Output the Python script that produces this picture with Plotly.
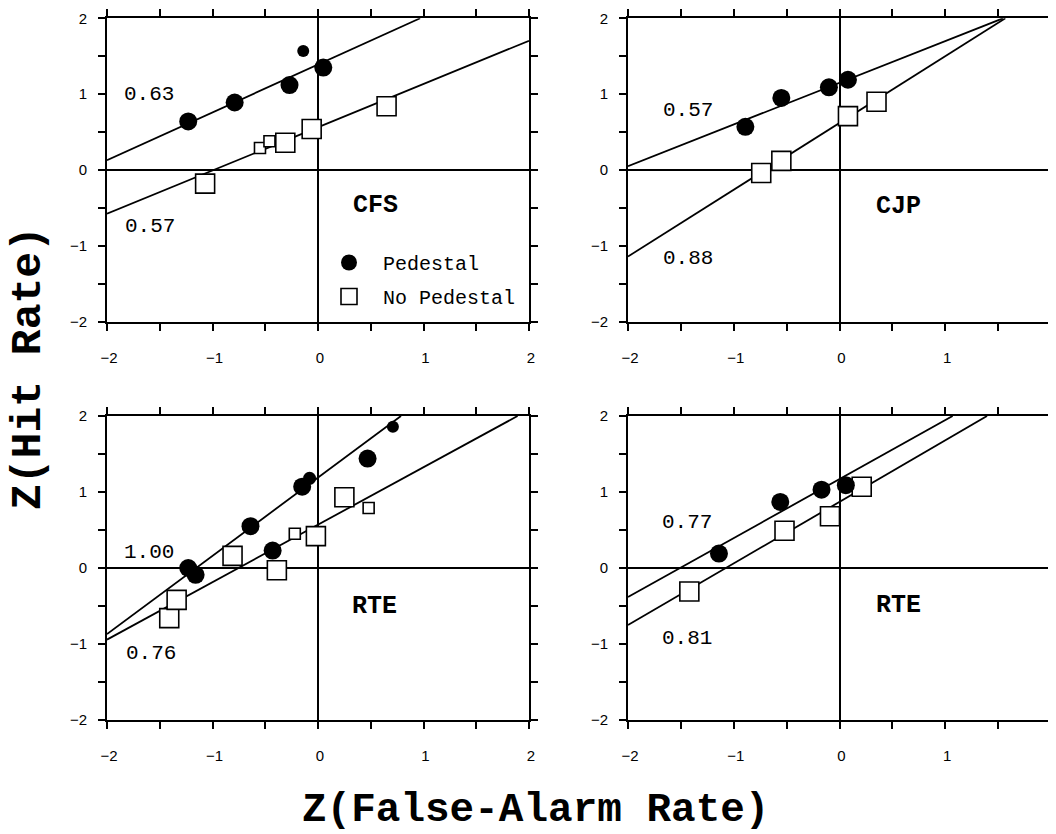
import plotly.graph_objects as go

# ---------------- data ----------------
tick_vals = [-2, -1.5, -1, -0.5, 0, 0.5, 1, 1.5, 2]
tick_text = ["\u22122", "", "\u22121", "", "0", "", "1", "", "2"]

panel_names = ["CFS", "CJP", "RTE", "RTE"]

# CFS (top-left)
cfs_ped_x = [-1.23, -0.79, -0.27, 0.05, -0.14]
cfs_ped_y = [0.64, 0.89, 1.12, 1.35, 1.57]
cfs_nop_x = [-1.07, -0.55, -0.46, -0.31, -0.06, 0.65]
cfs_nop_y = [-0.18, 0.29, 0.38, 0.36, 0.54, 0.84]
cfs_fit_slope = [0.63, 0.57]
cfs_fit_icpt = [1.39, 0.564]
cfs_slope_text = ["0.63", "0.57"]

# CJP (top-right)
cjp_ped_x = [-0.89, -0.55, -0.10, 0.08]
cjp_ped_y = [0.57, 0.95, 1.09, 1.19]
cjp_nop_x = [-0.74, -0.55, 0.08, 0.35]
cjp_nop_y = [-0.04, 0.12, 0.71, 0.90]
cjp_fit_slope = [0.55, 0.88]
cjp_fit_icpt = [1.15, 0.62]
cjp_slope_text = ["0.57", "0.88"]

# RTE (bottom-left)
rte1_ped_x = [-1.23, -1.16, -0.64, -0.43, -0.15, -0.08, 0.47, 0.71]
rte1_ped_y = [0.00, -0.09, 0.55, 0.23, 1.07, 1.18, 1.44, 1.86]
rte1_nop_x = [-1.41, -1.34, -0.81, -0.39, -0.22, -0.02, 0.25, 0.48]
rte1_nop_y = [-0.66, -0.42, 0.16, -0.03, 0.45, 0.42, 0.93, 0.79]
rte1_fit_slope = [1.03, 0.756]
rte1_fit_icpt = [1.19, 0.57]
rte1_slope_text = ["1.00", "0.76"]

# RTE (bottom-right)
rte2_ped_x = [-1.14, -0.56, -0.17, 0.06]
rte2_ped_y = [0.19, 0.87, 1.03, 1.09]
rte2_nop_x = [-1.42, -0.52, -0.09, 0.21]
rte2_nop_y = [-0.31, 0.49, 0.68, 1.07]
rte2_fit_slope = [0.776, 0.81]
rte2_fit_icpt = [1.17, 0.87]
rte2_slope_text = ["0.77", "0.81"]

legend_names = ["Pedestal", "No Pedestal"]

# ---------------- styles / positions ----------------
cfs_ped_size = [18, 18, 18, 18, 12]
cfs_nop_size = [19, 11, 11, 19, 19, 19]
cjp_ped_size = [18, 18, 18, 18]
cjp_nop_size = [19, 19, 19, 19]
rte1_ped_size = [18, 18, 18, 18, 18, 13, 18, 12]
rte1_nop_size = [19, 19, 19, 19, 11, 19, 19, 11]
rte2_ped_size = [18, 18, 18, 18]
rte2_nop_size = [19, 19, 19, 19]

MONO = "Liberation Mono, Courier New, monospace"
SANS = "Liberation Sans, Arial, sans-serif"
W, H = 1056, 834
OX, OY = 8, 8  # page body offset


def fx(px):
    return (px - OX) / W


def fy(py):
    return (H - (py - OY)) / H


col_dom = [[fx(107), fx(529)], [fx(628), fx(1051)]]
row_dom = [[fy(321.7), fy(18.3)], [fy(720), fy(416)]]

slope_pos = [
    [(-1.60, 0.99), (-1.59, -0.75)],
    [(-1.435, 0.78), (-1.43, -1.17)],
    [(-1.60, 0.20), (-1.58, -1.13)],
    [(-1.44, 0.60), (-1.44, -0.93)],
]
name_pos = [(0.546, -0.47), (0.56, -0.48), (0.54, -0.50), (0.56, -0.49)]

panels = [
    (cfs_ped_x, cfs_ped_y, cfs_ped_size, cfs_nop_x, cfs_nop_y, cfs_nop_size,
     cfs_fit_slope, cfs_fit_icpt, cfs_slope_text),
    (cjp_ped_x, cjp_ped_y, cjp_ped_size, cjp_nop_x, cjp_nop_y, cjp_nop_size,
     cjp_fit_slope, cjp_fit_icpt, cjp_slope_text),
    (rte1_ped_x, rte1_ped_y, rte1_ped_size, rte1_nop_x, rte1_nop_y, rte1_nop_size,
     rte1_fit_slope, rte1_fit_icpt, rte1_slope_text),
    (rte2_ped_x, rte2_ped_y, rte2_ped_size, rte2_nop_x, rte2_nop_y, rte2_nop_size,
     rte2_fit_slope, rte2_fit_icpt, rte2_slope_text),
]

fig = go.Figure()
annotations = []


def clip_line(slope, icpt):
    x0 = -2.0
    y0 = icpt + slope * x0
    if y0 < -2:
        x0 = (-2 - icpt) / slope
        y0 = -2.0
    x1 = 2.0
    y1 = icpt + slope * x1
    if y1 > 2:
        x1 = (2 - icpt) / slope
        y1 = 2.0
    return [x0, x1], [y0, y1]


for i, (px, py, ps, nx, ny, ns, slopes, icpts, stext) in enumerate(panels):
    xa = "x" if i == 0 else f"x{i + 1}"
    ya = "y" if i == 0 else f"y{i + 1}"
    for s, c in zip(slopes, icpts):
        lx, ly = clip_line(s, c)
        fig.add_trace(go.Scatter(x=lx, y=ly, mode="lines",
                                 line=dict(color="black", width=1.8),
                                 xaxis=xa, yaxis=ya, showlegend=False,
                                 hoverinfo="skip"))
    fig.add_trace(go.Scatter(x=nx, y=ny, mode="markers",
                             marker=dict(symbol="square", size=ns, color="white",
                                         opacity=1,
                                         line=dict(color="black", width=1.6)),
                             xaxis=xa, yaxis=ya, showlegend=False))
    fig.add_trace(go.Scatter(x=px, y=py, mode="markers",
                             marker=dict(symbol="circle", size=ps, color="black",
                                         opacity=1, line=dict(width=0)),
                             xaxis=xa, yaxis=ya, showlegend=False))
    for t, (tx, ty) in zip(stext, slope_pos[i]):
        annotations.append(dict(x=tx, y=ty, xref=xa, yref=ya, text=t,
                                showarrow=False, xanchor="center", yanchor="middle",
                                font=dict(family=MONO, size=21, color="black")))
    nxp, nyp = name_pos[i]
    annotations.append(dict(x=nxp, y=nyp, xref=xa, yref=ya,
                            text=f"<b>{panel_names[i]}</b>", showarrow=False,
                            xanchor="center", yanchor="middle",
                            font=dict(family=MONO, size=25, color="black")))

# legend entries
fig.add_trace(go.Scatter(x=[None], y=[None], mode="markers", name=legend_names[0],
                         legendgroup="a",
                         marker=dict(symbol="circle", size=16, color="black")))
fig.add_trace(go.Scatter(x=[None], y=[None], mode="markers", name=legend_names[1],
                         legendgroup="b",
                         marker=dict(symbol="square", size=16, color="white",
                                     line=dict(color="black", width=1.6))))

# axis titles
annotations.append(dict(x=fx(535), y=fy(810), xref="paper", yref="paper",
                        text="<b>Z(False-Alarm Rate)</b>", showarrow=False,
                        xanchor="center", yanchor="middle",
                        font=dict(family=MONO, size=41, color="black")))
annotations.append(dict(x=fx(28), y=fy(368), xref="paper", yref="paper",
                        text="<b>Z(Hit Rate)</b>", showarrow=False, textangle=-90,
                        xanchor="center", yanchor="middle",
                        font=dict(family=MONO, size=43, color="black")))

layout = dict(
    width=W, height=H, autosize=False,
    margin=dict(l=0, r=0, t=0, b=0, pad=0, autoexpand=False),
    paper_bgcolor="white", plot_bgcolor="white",
    annotations=annotations,
    showlegend=True,
    legend=dict(x=fx(315), y=fy(243), xanchor="left", yanchor="top",
                bgcolor="rgba(0,0,0,0)", font=dict(family=MONO, size=20, color="black"),
                traceorder="grouped", tracegroupgap=5, itemsizing="trace",
                itemwidth=58),
)

for i in range(4):
    r, c = divmod(i, 2)
    sx = "" if i == 0 else str(i + 1)
    common = dict(range=[-2, 2], tickvals=tick_vals, ticktext=tick_text,
                  ticks="outside", ticklen=7, tickwidth=1.5, tickcolor="black",
                  showline=True, linecolor="black", linewidth=2, mirror="ticks",
                  zeroline=True, zerolinecolor="black", zerolinewidth=1.6,
                  showgrid=False, fixedrange=True, automargin=False,
                  tickfont=dict(family=SANS, size=15, color="black"))
    layout[f"xaxis{sx}"] = dict(common, domain=col_dom[c], anchor=f"y{sx}",
                                ticklabelstandoff=14, ticklabelshift=2)
    layout[f"yaxis{sx}"] = dict(common, domain=row_dom[r], anchor=f"x{sx}",
                                ticklabelstandoff=8)

fig.update_layout(**layout)
fig.write_html("out.html")
